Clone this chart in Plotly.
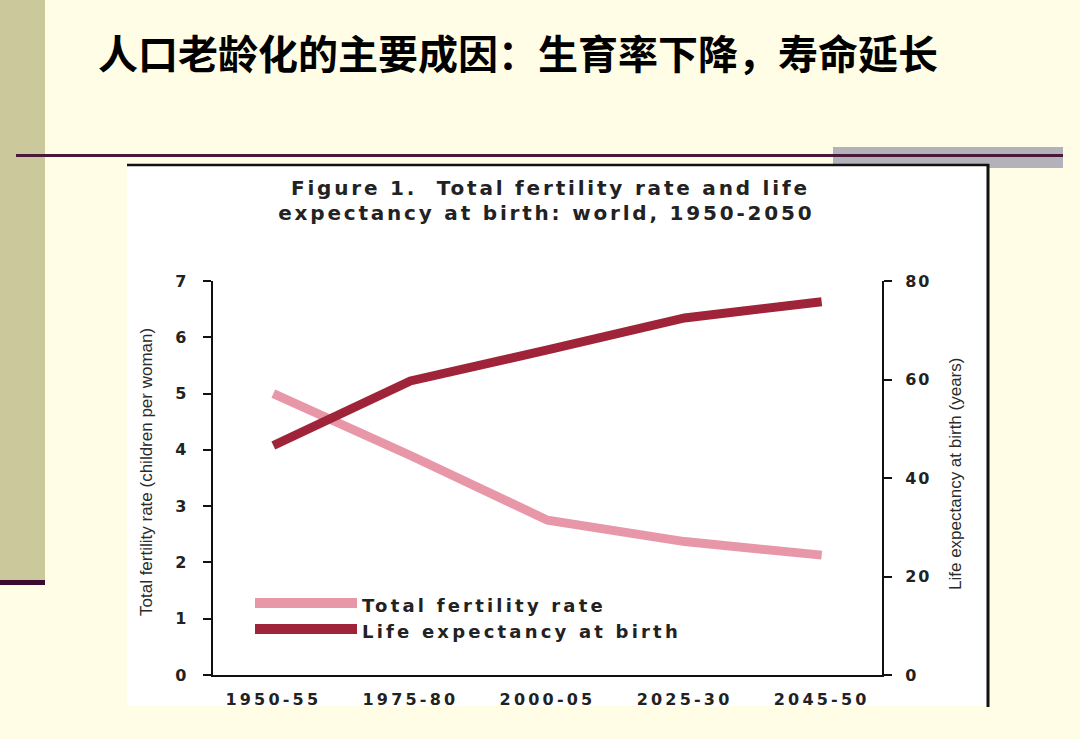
import plotly.graph_objects as go

# ---- data ----
periods = ["1950-55", "1975-80", "2000-05", "2025-30", "2045-50"]
tfr = [5.0, 3.9, 2.75, 2.37, 2.13]
life_exp = [46.6, 59.7, 66.0, 72.5, 75.8]
series_names = ["Total fertility rate", "Life expectancy at birth"]
left_ticks = [0, 1, 2, 3, 4, 5, 6, 7]
right_ticks = [0, 20, 40, 60, 80]

W, H = 1080, 739
def px(x):
    return x / W
def py(y):
    return 1 - y / H

PINK = "#E897A8"
DARK = "#A02439"
CREAM = "#FFFDE6"

fig = go.Figure()
fig.add_trace(go.Scatter(x=periods, y=tfr, mode="lines", name=series_names[0],
                         line=dict(color=PINK, width=9), showlegend=False,
                         yaxis="y"))
fig.add_trace(go.Scatter(x=periods, y=life_exp, mode="lines", name=series_names[1],
                         line=dict(color=DARK, width=9), showlegend=False,
                         yaxis="y2"))

tick_font = dict(family="DejaVu Sans", size=16, color="#222222", weight="bold")

fig.update_layout(
    width=W, height=H,
    margin=dict(l=0, r=0, t=0, b=0),
    paper_bgcolor=CREAM,
    plot_bgcolor="rgba(0,0,0,0)",
    showlegend=False,
    xaxis=dict(
        domain=[px(213), px(882)],
        type="category",
        range=[-0.44, 4.44],
        showgrid=False, zeroline=False,
        showline=True, linecolor="#111111", linewidth=2,
        ticks="", tickfont=tick_font, ticklabelstandoff=9,
        automargin=False,
    ),
    yaxis=dict(
        domain=[py(675), py(281)],
        range=[0, 7],
        tickvals=left_ticks,
        showgrid=False, zeroline=False,
        showline=True, linecolor="#111111", linewidth=2,
        ticks="outside", ticklen=8, tickwidth=2, tickcolor="#111111",
        tickfont=tick_font, ticklabelstandoff=12,
        automargin=False,
    ),
    yaxis2=dict(
        domain=[py(675), py(281)],
        range=[0, 80],
        tickvals=right_ticks,
        overlaying="y", side="right", anchor="x",
        showgrid=False, zeroline=False,
        showline=True, linecolor="#111111", linewidth=2,
        ticks="outside", ticklen=8, tickwidth=2, tickcolor="#111111",
        tickfont=tick_font, ticklabelstandoff=10,
        automargin=False,
    ),
)

shapes = [
    # olive side bar
    dict(type="rect", xref="paper", yref="paper", x0=px(0), x1=px(45), y0=py(580), y1=py(0),
         fillcolor="#CBC89B", line=dict(width=0), layer="below"),
    dict(type="rect", xref="paper", yref="paper", x0=px(0), x1=px(45), y0=py(585), y1=py(580),
         fillcolor="#3B0A2E", line=dict(width=0), layer="below"),
    # gray bar at right
    dict(type="rect", xref="paper", yref="paper", x0=px(833), x1=px(1063), y0=py(168), y1=py(147),
         fillcolor="#B3B1BA", line=dict(width=0), layer="below"),
    # horizontal rule
    dict(type="rect", xref="paper", yref="paper", x0=px(16), x1=px(1063), y0=py(157), y1=py(154),
         fillcolor="#4A1838", line=dict(width=0), layer="below"),
    # white chart panel
    dict(type="rect", xref="paper", yref="paper", x0=px(127), x1=px(988), y0=py(706), y1=py(165),
         fillcolor="#FFFFFF", line=dict(width=0), layer="below"),
    dict(type="line", xref="paper", yref="paper", x0=px(127), x1=px(989), y0=py(165), y1=py(165),
         line=dict(color="#111111", width=2.5), layer="below"),
    dict(type="line", xref="paper", yref="paper", x0=px(988), x1=px(988), y0=py(164), y1=py(707),
         line=dict(color="#111111", width=3), layer="below"),
    # legend swatches
    dict(type="line", xref="paper", yref="paper", x0=px(255), x1=px(357), y0=py(603), y1=py(603),
         line=dict(color=PINK, width=10)),
    dict(type="line", xref="paper", yref="paper", x0=px(255), x1=px(357), y0=py(629), y1=py(629),
         line=dict(color=DARK, width=10)),
]

annotations = [
    dict(text="人口老龄化的主要成因：生育率下降，寿命延长", xref="paper", yref="paper",
         x=px(96), y=py(52), xanchor="left", yanchor="middle", showarrow=False,
         font=dict(family="Noto Sans CJK SC", size=40, color="#000000", weight="bold")),
    dict(text="Figure 1.  Total fertility rate and life", xref="paper", yref="paper",
         x=px(550), y=py(188), xanchor="center", yanchor="middle", showarrow=False,
         font=dict(family="DejaVu Sans", size=20, color="#222222", weight="bold")),
    dict(text="expectancy at birth: world, 1950-2050", xref="paper", yref="paper",
         x=px(546), y=py(213), xanchor="center", yanchor="middle", showarrow=False,
         font=dict(family="DejaVu Sans", size=20, color="#222222", weight="bold")),
    dict(text="Total fertility rate (children per woman)", xref="paper", yref="paper",
         x=px(146), y=py(472), xanchor="center", yanchor="middle", showarrow=False, textangle=-90,
         font=dict(family="Liberation Sans", size=17, color="#2A2A2A")),
    dict(text="Life expectancy at birth (years)", xref="paper", yref="paper",
         x=px(955), y=py(474), xanchor="center", yanchor="middle", showarrow=False, textangle=-90,
         font=dict(family="Liberation Sans", size=17, color="#2A2A2A")),
    dict(text=series_names[0], xref="paper", yref="paper", align="left",
         x=px(360), y=py(605), xanchor="left", yanchor="middle", showarrow=False,
         font=dict(family="DejaVu Sans", size=18, color="#222222", weight="bold")),
    dict(text=series_names[1], xref="paper", yref="paper", align="left",
         x=px(360), y=py(631), xanchor="left", yanchor="middle", showarrow=False,
         font=dict(family="DejaVu Sans", size=18, color="#222222", weight="bold")),
]

fig.update_layout(shapes=shapes, annotations=annotations)

# the source image is horizontally stretched: widen the Latin text with letter-spacing
post_js = """
var gd = document.getElementById('{plot_id}');
function ls(sel, v) {
  gd.querySelectorAll(sel).forEach(function(e) { e.style.letterSpacing = v; });
}
ls('.annotation[data-index="1"] .annotation-text', '2.8px');
ls('.annotation[data-index="2"] .annotation-text', '2.8px');
ls('.annotation[data-index="5"] .annotation-text', '3.2px');
ls('.annotation[data-index="6"] .annotation-text', '3.2px');
ls('.xtick text', '3.2px');
ls('.ytick text', '1.5px');
ls('.y2tick text', '2px');
"""
fig.write_html("out.html", post_script=post_js)
